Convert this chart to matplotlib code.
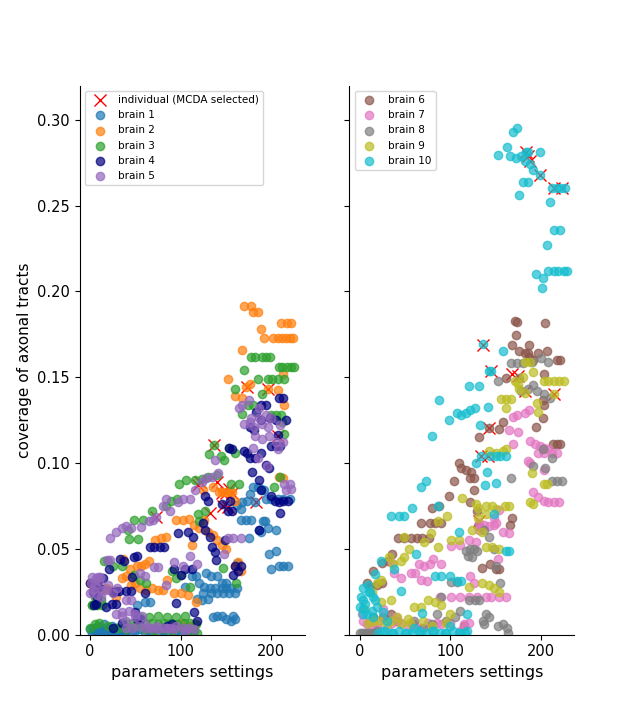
import numpy as np
import matplotlib
matplotlib.use("Agg")
import matplotlib.pyplot as plt

# values (x = parameter setting index, y = coverage)
b1_x = [0, 3, 6, 9, 12, 15, 18, 21, 24, 27, 30, 34, 38, 42, 46, 50, 55, 60, 65, 70, 75, 80, 85, 90, 95, 100, 105, 110, 115,
        2, 5, 8, 11, 14, 17, 20, 23, 26, 29, 32, 36, 40, 61, 66, 52,
        117, 120, 126, 132, 138, 145, 150, 155, 162, 125, 133, 140, 147, 153, 160, 118, 123, 130, 136, 140, 145, 150, 155, 160, 158,
        128, 133, 140, 145, 150, 112, 105,
        162, 166, 168, 173, 176, 180, 185, 188, 192, 182, 194, 200, 207, 213, 220, 166, 172, 177, 186, 189, 191, 193, 196, 205,
        197, 205, 200, 208, 213, 218, 162, 175]
b1_y = [0.003, 0.004, 0.002, 0.005, 0.003, 0.006, 0.004, 0.002, 0.005, 0.003, 0.004, 0.002, 0.004, 0.003, 0.001, 0.002, 0.003, 0.001, 0.002, 0.003, 0.001, 0.002, 0.001, 0.003, 0.002, 0.001, 0.002, 0.001, 0.002,
        0.001, 0.002, 0.004, 0.001, 0.002, 0.001, 0.003, 0.001, 0.002, 0.001, 0.002, 0.001, 0.002, 0.019, 0.019, 0.017,
        0.034, 0.030, 0.028, 0.027, 0.027, 0.027, 0.027, 0.027, 0.027, 0.024, 0.024, 0.024, 0.024, 0.024, 0.024, 0.021, 0.020, 0.021, 0.010, 0.011, 0.011, 0.009, 0.008, 0.009, 0.011,
        0.036, 0.034, 0.034, 0.030, 0.030, 0.034, 0.028,
        0.0755, 0.073, 0.077, 0.078, 0.082, 0.086, 0.086, 0.085, 0.084, 0.077, 0.079, 0.079, 0.079, 0.079, 0.079, 0.067, 0.067, 0.067, 0.061, 0.060, 0.066, 0.066, 0.062, 0.061,
        0.047, 0.049, 0.038, 0.040, 0.040, 0.040, 0.042, 0.056]

b2_x = [0, 5, 10, 17, 22, 28, 35, 40, 45, 50, 55, 62, 68, 75, 80, 85, 92, 100, 108, 117, 116, 110, 100,
        36, 44, 52, 56, 60, 65, 72, 78, 84, 95, 102, 109, 115, 120, 126, 112, 130, 135, 140, 145, 150, 163, 166, 160,
        125, 135, 142, 146, 150, 154, 157, 160,
        208, 213, 152, 167, 170, 178, 180, 185, 189, 192, 202, 207, 212, 216, 220, 224, 211, 217, 222, 172, 176, 196, 207, 167, 214, 213, 160]
b2_y = [0.030, 0.028, 0.025, 0.027, 0.026, 0.022, 0.033, 0.034, 0.029, 0.030, 0.027, 0.026, 0.027, 0.026, 0.026, 0.032, 0.024, 0.024, 0.023, 0.019, 0.006, 0.005, 0.007,
        0.044, 0.038, 0.040, 0.040, 0.041, 0.043, 0.055, 0.056, 0.057, 0.067, 0.067, 0.0675, 0.064, 0.062, 0.067, 0.052, 0.060, 0.058, 0.055, 0.052, 0.050, 0.0425, 0.037, 0.040,
        0.084, 0.086, 0.083, 0.083, 0.083, 0.083, 0.083, 0.078,
        0.092, 0.091, 0.149, 0.166, 0.1916, 0.1916, 0.188, 0.188, 0.178, 0.173, 0.173, 0.173, 0.173, 0.173, 0.173, 0.173, 0.1815, 0.1815, 0.1815, 0.1445, 0.146, 0.143, 0.1425, 0.1376, 0.134, 0.1516, 0.139]

b3_x = [0, 5, 10, 20, 30, 40, 50, 60, 70, 80, 90, 100, 110, 118,
        40, 47, 54, 61, 68, 75, 82, 89, 96, 103, 110, 117, 55, 65, 75, 85, 95, 105, 1.5, 12.6,
        2, 7, 12, 5, 15, 20, 25, 35, 48, 55, 62, 90, 95, 100, 110,
        42, 43, 53, 48, 58, 68, 84, 89, 96, 98, 106, 116, 123, 130, 119, 120, 127, 131, 137, 144, 148, 153, 160, 155, 164, 147, 161, 203, 210, 214, 140,
        160, 170, 168, 174, 180, 177, 182, 190, 194, 198, 208, 212, 217, 222, 225, 185, 190, 196, 201, 207, 214, 199, 205, 211, 212]
b3_y = [0.004, 0.006, 0.007, 0.005, 0.004, 0.003, 0.005, 0.003, 0.002, 0.003, 0.002, 0.004, 0.002, 0.001,
        0.007, 0.007, 0.006, 0.007, 0.007, 0.006, 0.007, 0.007, 0.006, 0.007, 0.007, 0.006, 0.010, 0.010, 0.011, 0.010, 0.010, 0.011, 0.017, 0.017,
        0.017, 0.017, 0.020, 0.022, 0.043, 0.043, 0.040, 0.040, 0.035, 0.032, 0.030, 0.037, 0.033, 0.035, 0.028,
        0.061, 0.0555, 0.0555, 0.067, 0.067, 0.072, 0.075, 0.078, 0.079, 0.088, 0.090, 0.090, 0.0905, 0.092, 0.070, 0.066, 0.072, 0.105, 0.1105, 0.104, 0.102, 0.109, 0.1056, 0.088, 0.088, 0.0386, 0.030, 0.086, 0.092, 0.117, 0.093,
        0.143, 0.154, 0.1285, 0.134, 0.134, 0.1615, 0.1615, 0.1615, 0.1615, 0.1615, 0.156, 0.156, 0.156, 0.156, 0.156, 0.149, 0.1405, 0.1487, 0.1487, 0.1487, 0.1487, 0.128, 0.128, 0.128, 0.124]

b4_x = [0, 3, 6, 8, 10, 14, 18, 21, 25, 28, 32, 33, 37, 40, 45, 46, 48, 52, 55, 50, 61, 66, 70, 77, 82, 85, 90, 93, 95, 97, 100, 105, 108, 112, 114, 115, 118, 35, 25,
        24, 29, 51.5, 8, 4,
        125, 127, 127, 132, 134, 138, 139, 130, 149, 152, 154, 156, 160, 163, 166, 158, 145,
        153, 156, 170, 173, 176, 182, 189, 194, 197, 179, 186, 188, 186, 200, 200, 205, 210, 207, 204, 208, 213, 218, 210, 208, 213, 188, 194, 183, 188, 198, 205, 216, 176, 181]
b4_y = [0.030, 0.025, 0.018, 0.022, 0.028, 0.033, 0.016, 0.038, 0.025, 0.0256, 0.0256, 0.044, 0.043, 0.0256, 0.0256, 0.0338, 0.0454, 0.046, 0.009, 0.013, 0.024, 0.051, 0.051, 0.051, 0.051, 0.005, 0.006, 0.038, 0.0183, 0.059, 0.035, 0.038, 0.0596, 0.038, 0.057, 0.0134, 0.008, 0.007, 0.004,
        0.018, 0.018, 0.009, 0.030, 0.017,
        0.065, 0.061, 0.081, 0.0567, 0.051, 0.048, 0.0435, 0.078, 0.055, 0.072, 0.078, 0.072, 0.040, 0.037, 0.040, 0.035, 0.076,
        0.109, 0.108, 0.107, 0.106, 0.1027, 0.1027, 0.106, 0.099, 0.097, 0.095, 0.090, 0.084, 0.061, 0.081, 0.110, 0.110, 0.110, 0.1163, 0.078, 0.077, 0.078, 0.078, 0.071, 0.1376, 0.1376, 0.1338, 0.1338, 0.130, 0.125, 0.126, 0.125, 0.125, 0.121, 0.119]

b5_x = [0, 2, 5, 7, 9, 11, 13, 17, 20, 25, 19, 22, 30, 40, 45, 35, 40, 28, 55, 60, 70, 75, 93, 102, 84, 60, 67, 75, 85, 93, 105, 115, 50,
        39, 46, 53, 60, 67, 74, 81, 88, 95, 102, 109, 35, 43, 50, 57, 1, 3, 6, 10, 12,
        22, 28, 35, 40, 45, 56, 65, 69, 73, 80, 88, 84, 97, 102, 110, 116, 123, 128, 134, 141, 138, 152, 158, 166, 148, 118, 110,
        164, 168, 175, 186, 178, 186, 194, 199, 170, 176, 181, 190, 196, 210, 182, 190, 197, 205, 213, 207, 214, 220, 216, 195, 180, 185, 222]
b5_y = [0.024, 0.0338, 0.029, 0.023, 0.0338, 0.0338, 0.026, 0.026, 0.029, 0.024, 0.0435, 0.0435, 0.027, 0.020, 0.020, 0.011, 0.008, 0.012, 0.0357, 0.034, 0.0396, 0.0396, 0.0425, 0.040, 0.029, 0.006, 0.004, 0.003, 0.004, 0.003, 0.002, 0.003, 0.010,
        0.004, 0.004, 0.005, 0.004, 0.004, 0.005, 0.004, 0.004, 0.005, 0.004, 0.004, 0.013, 0.014, 0.012, 0.011, 0.030, 0.026, 0.033, 0.031, 0.022,
        0.056, 0.0595, 0.062, 0.063, 0.062, 0.0629, 0.066, 0.067, 0.0687, 0.075, 0.072, 0.079, 0.077, 0.079, 0.079, 0.084, 0.089, 0.091, 0.092, 0.094, 0.102, 0.056, 0.056, 0.056, 0.047, 0.041, 0.046,
        0.132, 0.134, 0.137, 0.132, 0.126, 0.126, 0.128, 0.126, 0.123, 0.124, 0.121, 0.123, 0.121, 0.122, 0.116, 0.114, 0.116, 0.112, 0.112, 0.108, 0.088, 0.088, 0.084, 0.098, 0.109, 0.103, 0.085]

b6_x = [171, 173, 204, 172, 168, 187, 176, 182, 186, 197, 206, 191, 187, 217, 221, 161, 203, 202, 203, 202, 194, 158, 154, 143, 131, 213, 217, 221,
        109, 112, 117, 123, 122, 126, 104, 126, 98, 121, 129, 87, 80, 67, 77, 83, 90, 42, 49, 56, 63, 69, 76, 36, 24, 31, 15, 8, 11, 19, 24,
        135, 144, 150, 154, 15, 26, 34, 41, 130, 166, 168, 115, 58]
b6_y = [0.1827, 0.182, 0.1815, 0.1746, 0.169, 0.169, 0.165, 0.164, 0.164, 0.164, 0.165, 0.160, 0.162, 0.160, 0.160, 0.1496, 0.152, 0.137, 0.134, 0.126, 0.121, 0.124, 0.120, 0.1205, 0.115, 0.111, 0.111, 0.111,
        0.100, 0.097, 0.096, 0.095, 0.091, 0.091, 0.0898, 0.084, 0.081, 0.077, 0.072, 0.075, 0.074, 0.065, 0.065, 0.065, 0.065, 0.056, 0.056, 0.056, 0.056, 0.056, 0.056, 0.047, 0.042, 0.043, 0.037, 0.030, 0.028, 0.029, 0.030,
        0.039, 0.041, 0.038, 0.038, 0.010, 0.010, 0.012, 0.008, 0.063, 0.064, 0.068, 0.005, 0.006]

b7_x = [169, 173, 182, 187, 165, 175, 169, 188, 193, 199, 203, 208, 197, 203, 212, 218, 186, 188, 203, 191, 197, 203, 208, 214, 220,
        154, 148, 150, 131, 137, 143, 148, 158, 165, 131, 120, 128, 101, 111, 81, 89, 65, 71, 77, 56, 61, 68, 74, 45, 35, 38,
        101, 110, 120, 129, 139, 145, 154, 161, 126, 122, 152, 2, 4, 8, 13, 19, 30, 53, 68, 79, 90, 110, 40, 25, 88,
        10, 20, 35, 45, 60, 75, 85, 100, 115, 120]
b7_y = [0.127, 0.128, 0.129, 0.131, 0.119, 0.118, 0.111, 0.113, 0.111, 0.110, 0.109, 0.108, 0.106, 0.106, 0.106, 0.106, 0.101, 0.100, 0.096, 0.083, 0.080, 0.078, 0.077, 0.077, 0.077,
        0.0724, 0.068, 0.065, 0.065, 0.064, 0.063, 0.064, 0.060, 0.059, 0.061, 0.055, 0.054, 0.0518, 0.052, 0.044, 0.041, 0.041, 0.040, 0.041, 0.036, 0.036, 0.032, 0.031, 0.033, 0.042, 0.036,
        0.0217, 0.0217, 0.0217, 0.0217, 0.0217, 0.0217, 0.0217, 0.0217, 0.030, 0.034, 0.044, 0.012, 0.008, 0.006, 0.0045, 0.004, 0.004, 0.005, 0.004, 0.005, 0.006, 0.002, 0.010, 0.015, 0.022,
        0.0065, 0.0065, 0.007, 0.0065, 0.006, 0.0065, 0.007, 0.0065, 0.006, 0.0065]

b8_x = [167, 173, 180, 190, 200, 208, 152, 176, 191, 178, 186, 203, 195, 210, 202, 204, 191, 212, 212, 217, 223, 167,
        137, 143, 148, 117, 122, 126, 129, 119, 124, 101, 107, 120, 127, 132, 139, 136, 137, 143, 152, 158, 162, 164, 150, 155,
        2, 7, 13, 19, 70, 80, 95, 105, 110, 90, 85, 60, 0, 5, 10, 16]
b8_y = [0.158, 0.158, 0.158, 0.159, 0.161, 0.159, 0.1476, 0.1496, 0.1456, 0.142, 0.143, 0.140, 0.142, 0.138, 0.108, 0.0968, 0.098, 0.103, 0.0896, 0.0896, 0.0896, 0.091,
        0.061, 0.057, 0.050, 0.049, 0.050, 0.050, 0.049, 0.046, 0.045, 0.0305, 0.0305, 0.020, 0.020, 0.020, 0.012, 0.008, 0.006, 0.010, 0.005, 0.006, 0.004, 0.001, 0.040, 0.030,
        0.001, 0.001, 0.001, 0.002, 0.004, 0.006, 0.008, 0.010, 0.014, 0.022, 0.012, 0.008, 0.001, 0.001, 0.001, 0.001]

b9_x = [182, 188, 171, 174, 180, 191, 203, 208, 214, 220, 225, 176, 182, 156, 161, 167, 196, 197, 161, 214,
        143, 150, 158, 161, 190, 203, 206, 188, 191, 160, 165, 139, 146, 150, 128, 130, 113, 130, 139, 124, 135,
        96, 86, 79, 71, 86, 109, 101, 49, 54, 49, 45, 37, 32, 23, 19, 13, 139, 146, 154, 135, 143, 148, 154, 120,
        75, 83, 90, 68, 60, 53, 41, 34, 21, 15, 9, 23, 34, 5, 30, 70, 100, 45, 55, 80, 95]
b9_y = [0.159, 0.159, 0.148, 0.146, 0.150, 0.153, 0.148, 0.148, 0.148, 0.148, 0.148, 0.143, 0.141, 0.1375, 0.1375, 0.1375, 0.135, 0.130, 0.132, 0.140,
        0.107, 0.106, 0.107, 0.108, 0.094, 0.088, 0.088, 0.077, 0.076, 0.075, 0.075, 0.075, 0.075, 0.073, 0.076, 0.074, 0.0797, 0.068, 0.070, 0.061, 0.060,
        0.069, 0.066, 0.059, 0.054, 0.051, 0.055, 0.055, 0.057, 0.050, 0.045, 0.043, 0.041, 0.045, 0.032, 0.030, 0.025, 0.051, 0.051, 0.050, 0.030, 0.029, 0.027, 0.025, 0.0275,
        0.020, 0.019, 0.017, 0.016, 0.016, 0.009, 0.010, 0.008, 0.008, 0.008, 0.007, 0.019, 0.020, 0.015, 0.006, 0.008, 0.012, 0.006, 0.007, 0.005, 0.007]

b10_x = [173, 169, 162, 152, 166, 172, 178, 183, 186, 199, 182, 188, 191, 199, 180, 186, 176, 212, 217, 222, 226, 210, 214, 221, 206,
         194, 202, 201, 208, 214, 219, 225, 229,
         136, 158, 145, 142, 120, 131, 87, 141, 98, 107, 112, 117, 122, 127, 133, 80, 144, 150, 155, 161, 134, 128, 140, 138, 150,
         68, 73, 86, 57, 34, 43, 49, 148, 109, 62, 23, 38, 17, 161, 165, 83, 90, 99, 107, 112, 45,
         4, 9, 11, 15, 3, 0, 4, 8, 13, 19, 26, 69, 118, 26, 37, 52, 67, 82, 94, 109, 116, 30, 60, 100,
         20, 28, 35, 43, 50, 58, 65, 73, 80, 88, 95, 103, 110, 118, 1, 3, 6, 10, 14, 17]
b10_y = [0.295, 0.293, 0.284, 0.2795, 0.279, 0.278, 0.279, 0.281, 0.281, 0.281, 0.276, 0.274, 0.271, 0.268, 0.264, 0.264, 0.256, 0.260, 0.260, 0.260, 0.260, 0.2524, 0.236, 0.236, 0.227,
         0.210, 0.208, 0.2018, 0.212, 0.212, 0.212, 0.212, 0.212,
         0.1693, 0.165, 0.1535, 0.1535, 0.145, 0.145, 0.137, 0.1327, 0.125, 0.129, 0.128, 0.129, 0.131, 0.132, 0.122, 0.116, 0.104, 0.104, 0.104, 0.104, 0.104, 0.100, 0.095, 0.087, 0.0886,
         0.086, 0.0896, 0.075, 0.074, 0.069, 0.069, 0.069, 0.070, 0.060, 0.047, 0.043, 0.038, 0.0354, 0.049, 0.049, 0.0344, 0.0344, 0.0344, 0.031, 0.031, 0.0256,
         0.027, 0.029, 0.025, 0.022, 0.020, 0.016, 0.015, 0.012, 0.014, 0.016, 0.013, 0.0128, 0.0118, 0.002, 0.001, 0.001, 0.001, 0.002, 0.001, 0.001, 0.001, 0.008, 0.004, 0.005,
         0.001, 0.002, 0.001, 0.002, 0.001, 0.001, 0.002, 0.001, 0.002, 0.001, 0.001, 0.002, 0.001, 0.002, 0.022, 0.012, 0.018, 0.025, 0.010, 0.020]

# MCDA selected settings
sel_left_x = [73, 137, 121, 140, 153, 119, 145, 150, 156, 147, 152, 132, 182.5, 173, 196, 207]
sel_left_y = [0.0687, 0.1105, 0.089, 0.089, 0.085, 0.087, 0.0827, 0.0827, 0.0827, 0.0747, 0.0745, 0.0706, 0.0774, 0.1445, 0.143, 0.116]
sel_right_x = [136, 145, 143, 134, 141, 131, 183, 186, 188, 199, 214, 223, 168, 174, 182, 214]
sel_right_y = [0.169, 0.1535, 0.1205, 0.104, 0.104, 0.066, 0.281, 0.279, 0.276, 0.268, 0.260, 0.260, 0.152, 0.151, 0.142, 0.140]

left = [(b1_x, b1_y, "tab:blue", "brain 1"), (b2_x, b2_y, "tab:orange", "brain 2"),
        (b3_x, b3_y, "tab:green", "brain 3"), (b4_x, b4_y, "navy", "brain 4"),
        (b5_x, b5_y, "tab:purple", "brain 5")]
right = [(b6_x, b6_y, "tab:brown", "brain 6"), (b7_x, b7_y, "tab:pink", "brain 7"),
         (b8_x, b8_y, "tab:gray", "brain 8"), (b9_x, b9_y, "tab:olive", "brain 9"),
         (b10_x, b10_y, "tab:cyan", "brain 10")]

fig, axes = plt.subplots(1, 2, sharey=True, figsize=(6.38, 7.13), dpi=100)

ax = axes[0]
ax.scatter(sel_left_x, sel_left_y, marker="x", color="red", s=75, linewidths=1, label="individual (MCDA selected)")
for x, y, c, lab in left:
    ax.scatter(x, y, color=c, alpha=0.7, s=36, label=lab)
ax.set_ylabel("coverage of axonal tracts", fontsize=11)

ax = axes[1]
ax.scatter(sel_right_x, sel_right_y, marker="x", color="red", s=75, linewidths=1)
for x, y, c, lab in right:
    ax.scatter(x, y, color=c, alpha=0.7, s=36, label=lab)

for ax in axes:
    ax.set_xlim(-11.5, 236.5)
    ax.set_ylim(0, 0.32)
    ax.set_xticks([0, 100, 200])
    ax.set_xlabel("parameters settings", fontsize=11.5)
    ax.tick_params(labelsize=10.5)
    ax.spines["top"].set_visible(False)
    ax.spines["right"].set_visible(False)
    ax.legend(loc="upper left", fontsize=7.5)

fig.savefig("out.png", dpi=100)
